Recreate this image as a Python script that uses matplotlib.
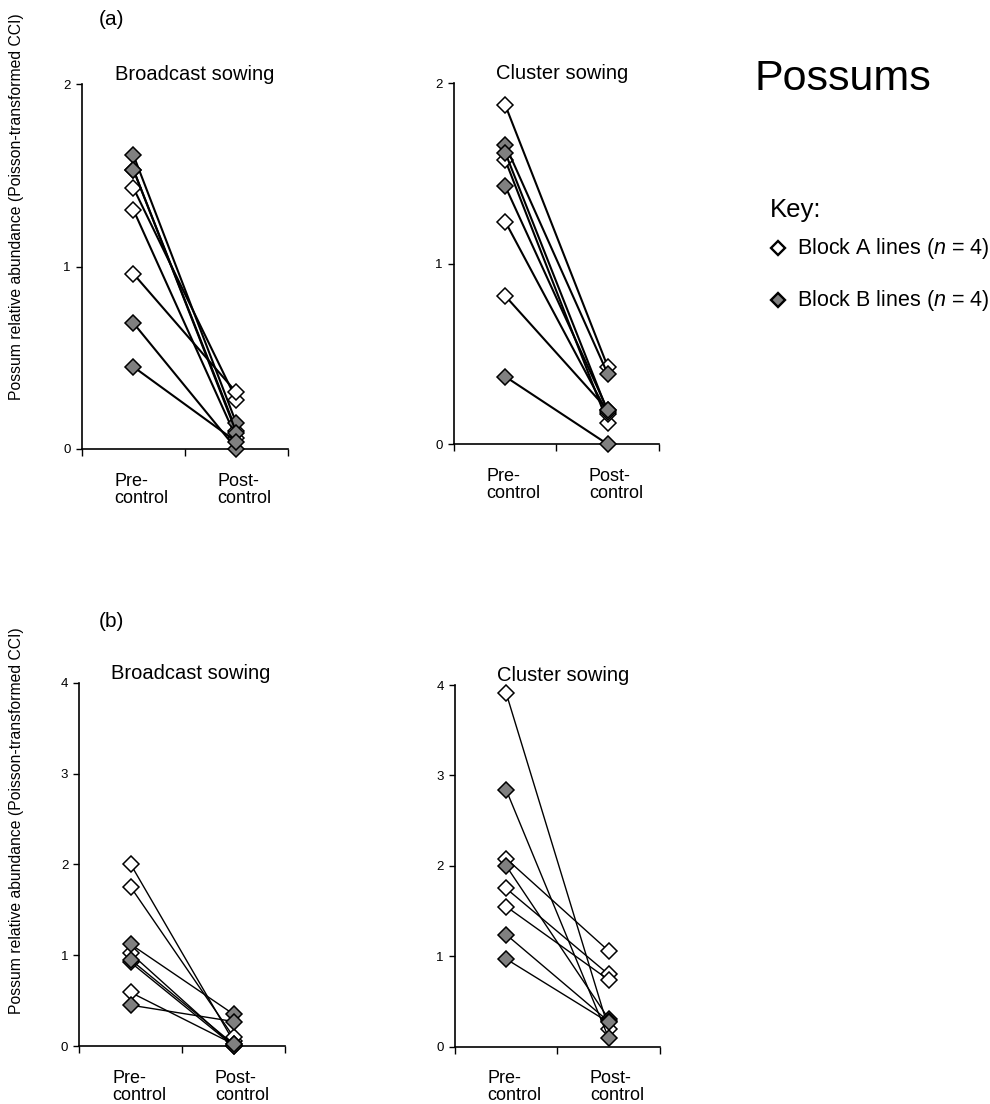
import matplotlib

matplotlib.use("Agg")
import matplotlib.pyplot as plt  # noqa: E402
from matplotlib.lines import Line2D  # noqa: E402

plt.rcParams["font.family"] = ["Liberation Sans", "DejaVu Sans"]
plt.rcParams["mathtext.fontset"] = "custom"
plt.rcParams["mathtext.rm"] = "Liberation Sans"
plt.rcParams["mathtext.it"] = "Liberation Sans:italic"

phases = ["Pre-\ncontrol", "Post-\ncontrol"]
titles = ["Broadcast sowing", "Cluster sowing"]
ylabel = "Possum relative abundance (Poisson-transformed CCI)"
key_labels = [r"Block A lines ($\it{n}$ = 4)", r"Block B lines ($\it{n}$ = 4)"]

# (a) broadcast sowing
a_bc_A_pre = [1.43, 1.31, 0.96, 1.53]
a_bc_A_post = [0.27, 0.06, 0.31, 0.10]
a_bc_B_pre = [1.61, 1.53, 0.69, 0.45]
a_bc_B_post = [0.14, 0.09, 0.00, 0.04]
# (a) cluster sowing
a_cl_A_pre = [1.88, 1.575, 1.234, 0.822]
a_cl_A_post = [0.43, 0.12, 0.17, 0.19]
a_cl_B_pre = [1.66, 1.616, 1.43, 0.375]
a_cl_B_post = [0.39, 0.18, 0.19, 0.00]
# (b) broadcast sowing
b_bc_A_pre = [2.00, 1.75, 1.02, 0.59]
b_bc_A_post = [0.05, 0.10, 0.00, 0.02]
b_bc_B_pre = [1.12, 0.92, 0.95, 0.45]
b_bc_B_post = [0.35, 0.00, 0.02, 0.27]
# (b) cluster sowing
b_cl_A_pre = [3.91, 2.08, 1.75, 1.55]
b_cl_A_post = [0.20, 1.06, 0.80, 0.74]
b_cl_B_pre = [2.84, 2.00, 1.24, 0.97]
b_cl_B_post = [0.10, 0.31, 0.28, 0.27]

GREY = "#808080"
FILLS = ["white", GREY]


def draw(ax, a_pre, a_post, b_pre, b_post, ymax, title, title_x, lw):
    xs = [0.5, 1.5]
    for fill, pre, post in ((FILLS[0], a_pre, a_post), (FILLS[1], b_pre, b_post)):
        for p, q in zip(pre, post):
            ax.plot(xs, [p, q], "-", color="black", lw=lw, marker="D", ms=8.5,
                    mfc=fill, mec="black", mew=1.1, clip_on=False, zorder=3)
    ax.set_xlim(0, 2)
    ax.set_ylim(0, ymax)
    ax.set_yticks(range(ymax + 1))
    ax.set_xticks([0, 1, 2])
    ax.set_xticklabels([])
    # category labels sit a little right of the points, Excel style
    for x, lab in zip(xs, phases):
        ax.annotate(lab, xy=(x, 0), xycoords=ax.get_xaxis_transform(),
                    xytext=(6, -17), textcoords="offset points", ha="center",
                    va="top", multialignment="left", fontsize=13, linespacing=1.0)
    ax.tick_params(axis="x", which="major", direction="out", length=5, width=1)
    ax.tick_params(axis="y", direction="out", length=4, width=1, labelsize=9.5, pad=4)
    for s in ("top", "right"):
        ax.spines[s].set_visible(False)
    for s in ("left", "bottom"):
        ax.spines[s].set_linewidth(1.2)
    ax.set_title(title, fontsize=14.5, pad=3, x=title_x)


fig = plt.figure(figsize=(9.9, 11.04), dpi=100)

ax1 = fig.add_axes([0.0828, 0.5933, 0.208, 0.3306])
ax2 = fig.add_axes([0.4586, 0.5976, 0.207, 0.3269])
ax3 = fig.add_axes([0.0801, 0.0525, 0.2078, 0.3291])
ax4 = fig.add_axes([0.4596, 0.0519, 0.2068, 0.3276])

draw(ax1, a_bc_A_pre, a_bc_A_post, a_bc_B_pre, a_bc_B_post, 2, titles[0], 0.545, 1.5)
draw(ax2, a_cl_A_pre, a_cl_A_post, a_cl_B_pre, a_cl_B_post, 2, titles[1], 0.527, 1.5)
draw(ax3, b_bc_A_pre, b_bc_A_post, b_bc_B_pre, b_bc_B_post, 4, titles[0], 0.54, 1.0)
draw(ax4, b_cl_A_pre, b_cl_A_post, b_cl_B_pre, b_cl_B_post, 4, titles[1], 0.53, 1.0)

fig.text(0.017, 0.8125, ylabel, rotation=90, ha="center", va="center", fontsize=11.3)
fig.text(0.017, 0.257, ylabel, rotation=90, ha="center", va="center", fontsize=11.3)
fig.text(0.113, 0.982, "(a)", ha="center", va="center", fontsize=15)
fig.text(0.113, 0.437, "(b)", ha="center", va="center", fontsize=15)
fig.text(0.762, 0.928, "Possums", ha="left", va="center", fontsize=31)

# key, drawn by hand so the spacing can follow the reference
fig.text(0.778, 0.810, "Key:", ha="left", va="center", fontsize=18.5)
for i, (fill, lab) in enumerate(zip(FILLS, key_labels)):
    yk = 0.775 - i * 0.047
    fig.add_artist(Line2D([0.786], [yk], transform=fig.transFigure, ls="none",
                          marker="D", ms=7, mfc=fill, mec="black", mew=1.7))
    fig.text(0.805, yk, lab, ha="left", va="center", fontsize=15.5)

fig.savefig("out.png", dpi=100)
